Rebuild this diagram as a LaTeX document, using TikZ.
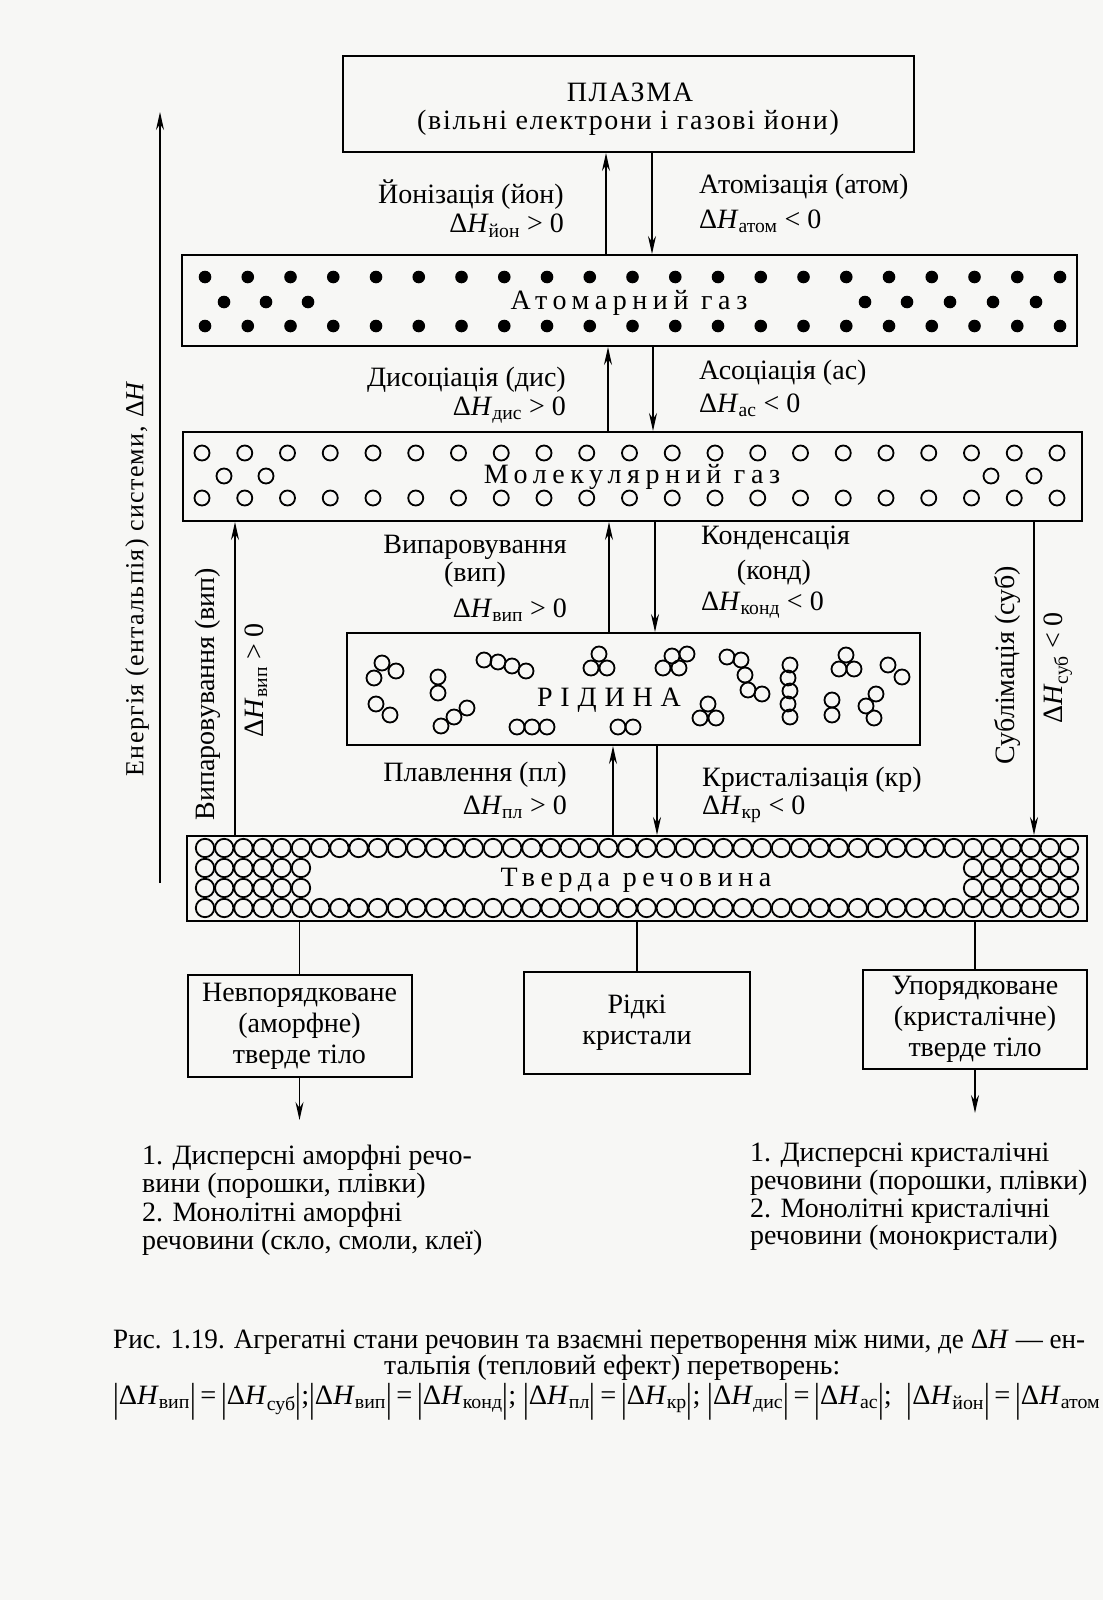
\documentclass[tikz,border=0pt]{standalone}
\usepackage{fontspec}
\usepackage{graphicx}
\setmainfont{Liberation Serif}
\usetikzlibrary{arrows.meta}
\definecolor{bg}{RGB}{247,247,245}
\newcommand{\dH}[1]{Δ\textit{H}\textsubscript{#1}}
\newcommand{\vb}{\raisebox{-0.25em}{\scalebox{1}[1.45]{|}}}
\tikzset{
  box/.style={draw, line width=2pt},
  lbl/.style={inner sep=0pt, font=\fontsize{28}{31}\selectfont},
  sp/.style={inner sep=0pt, font=\fontsize{28}{31}\selectfont\addfontfeature{LetterSpace=20}},
  arr/.style={line width=1.5pt, -{Stealth[length=18pt,width=8pt]}},
  con/.style={line width=1.5pt},
  ring/.style={line width=1.8pt},
}
\begin{document}
\begin{tikzpicture}[x=1pt,y=-1pt]
\fill[bg] (0,0) rectangle (1103,1600);
\useasboundingbox (0,0) rectangle (1103,1600);

% ---------- boxes ----------
\node[box, minimum width=571pt, minimum height=96pt] (plasma) at (628.5,104) {};
\node[box, minimum width=895pt, minimum height=91pt] (atom) at (629.5,300.5) {};
\node[box, minimum width=899pt, minimum height=89pt] (mol) at (632.5,476.5) {};
\node[box, minimum width=573pt, minimum height=112pt] (liq) at (633.5,689) {};
\node[box, minimum width=900pt, minimum height=85pt] (solid) at (637,878.5) {};
\node[box, lbl, align=center, minimum width=224pt, minimum height=102pt] (amor) at (299.5,1026) {Невпорядковане\\(аморфне)\\тверде тіло};
\node[box, lbl, align=center, minimum width=226pt, minimum height=102pt] (lc) at (637,1023) {Рідкі\\кристали};
\node[box, lbl, align=center, minimum width=224pt, minimum height=99pt] (cryst) at (975,1019.5) {Упорядковане\\(кристалічне)\\тверде тіло};

% ---------- box texts ----------
\node[lbl, font=\fontsize{28}{31}\selectfont\addfontfeature{LetterSpace=6}] (tpl1) at (630,92) {ПЛАЗМА};
\node[lbl, font=\fontsize{28}{31}\selectfont\addfontfeature{LetterSpace=6}] (tpl2) at (628,123) {(вільні електрони і газові йони)};
\node[sp] (tatom) at (629,303) {Атомарний газ};
\node[sp] (tmol) at (632,477) {Молекулярний газ};
\node[sp, font=\fontsize{28}{31}\selectfont\addfontfeature{LetterSpace=28}] (tliq) at (609,700) {РІДИНА};
\node[sp] (tsol) at (636,880) {Тверда речовина};

% ---------- particles ----------
\foreach \i in {0,...,20} {
  \fill ({205+\i*42.75},277) circle (6.3pt);
  \fill ({205+\i*42.75},326) circle (6.3pt);
}
\foreach \x in {224,266,308,865,907,950,993,1036} \fill (\x,302) circle (6.3pt);

\foreach \i in {0,...,20} {
  \draw[ring] ({202+\i*42.75},453) circle (7.5pt);
  \draw[ring] ({202+\i*42.75},498) circle (7.5pt);
}
\foreach \x in {224,266,991,1034} \draw[ring] (\x,476) circle (7.5pt);

\foreach \p in {(382,663),(396,671),(374,678),
  (376,704),(390,715),
  (438,677),(438,693),
  (441,726),(454,717),(467,708),
  (484,660),(498,662),(512,666),(526,671),
  (517,727),(532,727),(547,727),
  (599,654),(591,668),(607,668),
  (618,727),(633,727),
  (708,704),(700,718),(716,718),
  (663,668),(672,656),(687,654),(679,668),
  (727,657),(741,660),(745,675),(748,690),(762,694),
  (790,665),(788,678),(790,691),(788,704),(790,717),
  (846,655),(839,669),(854,669),
  (888,665),(902,677),
  (832,700),(832,715),
  (876,694),(866,706),(874,718)}
  \draw[ring] \p circle (7.5pt);

\foreach \i in {0,...,45} {
  \draw[ring] ({205+\i*19.2},848) circle (9.2pt);
  \draw[ring] ({205+\i*19.2},908) circle (9.2pt);
}
\foreach \i in {0,...,5,40,41,42,43,44,45} {
  \draw[ring] ({205+\i*19.2},868) circle (9.2pt);
  \draw[ring] ({205+\i*19.2},888) circle (9.2pt);
}

% ---------- connectors ----------
\draw[arr] (atom.north -| 606,0) -- (plasma.south -| 606,0);
\draw[arr] (plasma.south -| 652,0) -- (atom.north -| 652,0);
\draw[arr] (mol.north -| 608,0) -- (atom.south -| 608,0);
\draw[arr] (atom.south -| 653,0) -- (mol.north -| 653,0);
\draw[arr] (liq.north -| 609,0) -- (mol.south -| 609,0);
\draw[arr] (mol.south -| 655,0) -- (liq.north -| 655,0);
\draw[arr] (solid.north -| 613,0) -- (liq.south -| 613,0);
\draw[arr] (liq.south -| 657,0) -- (solid.north -| 657,0);
\draw[arr] (solid.north -| 235,0) -- (mol.south -| 235,0);
\draw[arr] (mol.south -| 1034,0) -- (solid.north -| 1034,0);
\draw[con] (solid.south -| amor.north) -- (amor.north);
\draw[con] (solid.south -| lc.north) -- (lc.north);
\draw[con] (solid.south -| cryst.north) -- (cryst.north);
\coordinate (amorEnd) at (299.5,1120);
\coordinate (crystEnd) at (975,1113);
\draw[arr] (amor.south) -- (amorEnd);
\draw[arr] (cryst.south) -- (crystEnd);
\coordinate (axB) at (160,883);
\coordinate (axT) at (160,112);
\draw[arr] (axB) -- (axT);

% ---------- transition labels ----------
\node[lbl, anchor=east] (l1a) at (564,195) {Йонізація (йон)};
\node[lbl, anchor=east] (l1b) at (564,226) {\dH{йон} > 0};
\node[lbl, anchor=west] (r1a) at (699,187) {Атомізація (атом)};
\node[lbl, anchor=west] (r1b) at (699,221) {\dH{атом} < 0};
\node[lbl, anchor=east] (l2a) at (566,380) {Дисоціація (дис)};
\node[lbl, anchor=east] (l2b) at (566,410) {\dH{дис} > 0};
\node[lbl, anchor=west] (r2a) at (699,373) {Асоціація (ас)};
\node[lbl, anchor=west] (r2b) at (699,405) {\dH{ас} < 0};
\node[lbl, anchor=east] (l3a) at (567,547) {Випаровування};
\node[lbl] (l3b) at (475,575) {(вип)};
\node[lbl, anchor=east] (l3c) at (567,610) {\dH{вип} > 0};
\node[lbl, anchor=west] (r3a) at (701,538) {Конденсація};
\node[lbl] (r3b) at (774,573) {(конд)};
\node[lbl, anchor=west] (r3c) at (701,605) {\dH{конд} < 0};
\node[lbl, anchor=east] (l4a) at (567,775) {Плавлення (пл)};
\node[lbl, anchor=east] (l4b) at (567,807) {\dH{пл} > 0};
\node[lbl, anchor=west] (r4a) at (702,780) {Кристалізація (кр)};
\node[lbl, anchor=west] (r4b) at (702,809) {\dH{кр} < 0};

\node[lbl, rotate=90, font=\fontsize{26}{30}\selectfont\addfontfeature{LetterSpace=5}] (axlbl) at (137,578) {Енергія (ентальпія) системи, Δ\textit{H}};
\node[lbl, rotate=90] (vl1) at (208,694) {Випаровування (вип)};
\node[lbl, rotate=90] (vl2) at (256,680) {\dH{вип} > 0};
\node[lbl, rotate=90] (sl1) at (1007,665) {Сублімація (суб)};
\node[lbl, rotate=90] (sl2) at (1058,668) {\dH{суб} < 0};

% ---------- lists ----------
\node[lbl, anchor=west] (la1) at (142,1158) {1. Дисперсні аморфні речо-};
\node[lbl, anchor=west] (la2) at (142,1186) {вини (порошки, плівки)};
\node[lbl, anchor=west] (la3) at (142,1215) {2. Монолітні аморфні};
\node[lbl, anchor=west] (la4) at (142,1243) {речовини (скло, смоли, клеї)};
\node[lbl, anchor=west] (lb1) at (750,1155) {1. Дисперсні кристалічні};
\node[lbl, anchor=west] (lb2) at (750,1183) {речовини (порошки, плівки)};
\node[lbl, anchor=west] (lb3) at (750,1211) {2. Монолітні кристалічні};
\node[lbl, anchor=west] (lb4) at (750,1238) {речовини (монокристали)};

% ---------- caption ----------
\node[lbl, anchor=west] (cap1) at (113,1342) {\resizebox{972pt}{\height}{Рис. 1.19. Агрегатні стани речовин та взаємні перетворення між ними, де Δ\textit{H} — ен-}};
\node[lbl, anchor=west] (cap2) at (384,1368) {\resizebox{456pt}{\height}{тальпія (тепловий ефект) перетворень:}};
\node[lbl, anchor=west] (cap3) at (113,1402) {\resizebox{987pt}{\height}{\vb\dH{вип}\vb\,=\,\vb\dH{суб}\vb;\vb\dH{вип}\vb\,=\,\vb\dH{конд}\vb; \vb\dH{пл}\vb\,=\,\vb\dH{кр}\vb; \vb\dH{дис}\vb\,=\,\vb\dH{ас}\vb;\; \vb\dH{йон}\vb\,=\,\vb\dH{атом}}};
\end{tikzpicture}
\end{document}
